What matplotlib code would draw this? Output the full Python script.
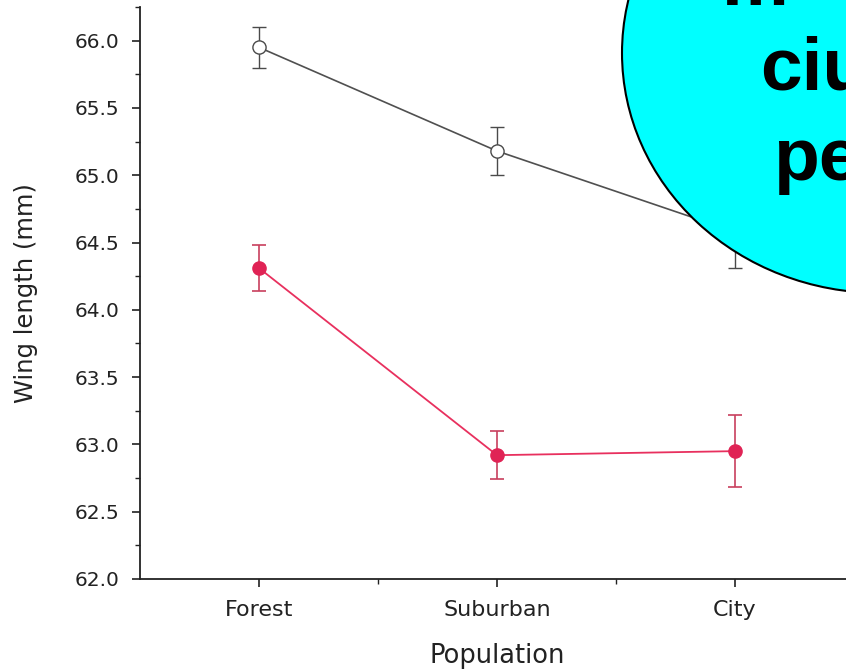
import matplotlib
matplotlib.use("Agg")
import matplotlib.pyplot as plt
from matplotlib.patches import Ellipse
from matplotlib.ticker import MultipleLocator, FixedLocator, FormatStrFormatter

plt.rcParams['font.family'] = ['DejaVu Sans']

categories = ["Forest", "Suburban", "City"]
x_pos = [1, 2, 3]
open_mean = [65.95, 65.18, 64.58]
open_err = [0.15, 0.18, 0.27]
red_mean = [64.31, 62.92, 62.95]
red_err = [0.17, 0.18, 0.27]
bubble_lines = ["m", "ciu", "pe"]

W, H = 846, 671
fig = plt.figure(figsize=(W / 100, H / 100), dpi=100)
ax = fig.add_axes([140 / W, (H - 579) / H, (854 - 140) / W, (579 - 7) / H])

ax.errorbar(x_pos, open_mean, yerr=open_err, color='#505050', lw=1.2,
            marker='o', ms=9.5, mfc='white', mec='#4a4a4a', mew=1.0,
            ecolor='#4a4a4a', elinewidth=1.0, capsize=5, capthick=1.0, zorder=3)
ax.errorbar(x_pos, red_mean, yerr=red_err, color='#e8305e', lw=1.3,
            marker='o', ms=9.5, mfc='#e02355', mec='#e02355',
            ecolor='#c8405e', elinewidth=1.2, capsize=5, capthick=1.2, zorder=3)

ax.set_xlim(0.5, 3.5)
ax.set_ylim(62.0, 66.25)
ax.set_xticks(x_pos)
ax.set_xticklabels(categories)
ax.xaxis.set_minor_locator(FixedLocator([1.5, 2.5]))
ax.yaxis.set_major_locator(MultipleLocator(0.5))
ax.yaxis.set_minor_locator(MultipleLocator(0.25))
ax.yaxis.set_major_formatter(FormatStrFormatter('%.1f'))

for s in ['top', 'right']:
    ax.spines[s].set_visible(False)
for s in ['left', 'bottom']:
    ax.spines[s].set_linewidth(1.3)
    ax.spines[s].set_color('#222222')
ax.tick_params(which='major', direction='out', length=6, width=1.2, colors='#222222')
ax.tick_params(which='minor', direction='out', length=3.5, width=1.0, colors='#222222')
ax.tick_params(axis='y', which='major', labelsize=14.5, pad=9)
ax.tick_params(axis='x', which='major', labelsize=16, pad=9)

ax.set_xlabel("Population", fontsize=18.5, labelpad=17, color='#222222')
ax.set_ylabel("Wing length (mm)", fontsize=17.5, labelpad=26, color='#222222')

ell = Ellipse((880 / W, 1 - 53 / H), width=2 * 258 / W, height=2 * 240 / H,
              transform=fig.transFigure, facecolor='#00ffff', edgecolor='black',
              lw=1.5, zorder=10)
fig.add_artist(ell)

line_x = [722, 760, 773]
line_y = [5, 90, 180]
for txt, px, py in zip(bubble_lines, line_x, line_y):
    fig.text(px / W, 1 - py / H, txt, fontsize=54, fontweight='bold',
             family='Liberation Sans', color='black', ha='left', va='baseline', zorder=11)

fig.savefig("out.png", dpi=100)
